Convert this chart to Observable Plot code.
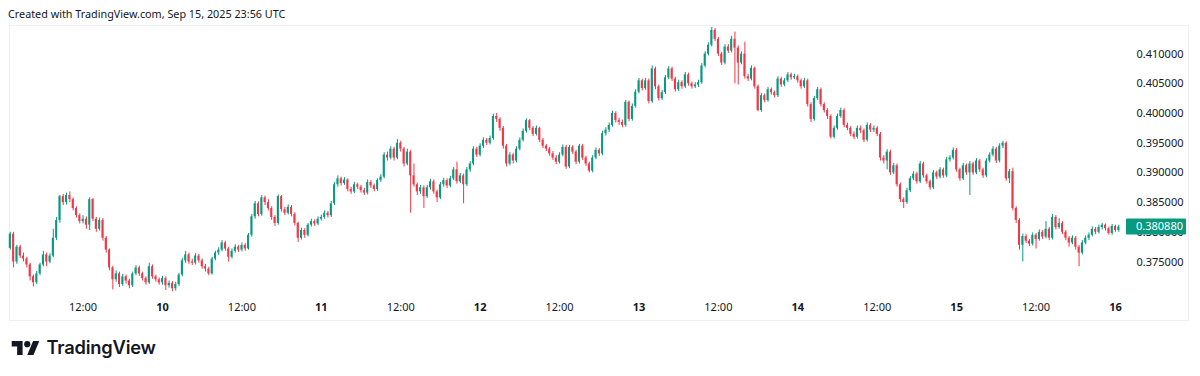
<!DOCTYPE html>
<html><head><meta charset="utf-8">
<script src="https://cdn.jsdelivr.net/npm/d3@7"></script>
<script src="https://cdn.jsdelivr.net/npm/@observablehq/plot@0.6"></script>
<style>
html,body{margin:0;padding:0;background:#fff;}
body{width:1200px;height:376px;position:relative;overflow:hidden;font-family:"Noto Sans",sans-serif;color:#131722;}
#top{position:absolute;left:0;top:0;}
#panel{position:absolute;left:9px;top:25px;width:1180px;height:296px;border:1px solid #eceff3;box-sizing:border-box;}
#chart{position:absolute;left:0;top:25px;}
#logo{position:absolute;left:0;top:330px;}
</style></head><body>
<svg id="top" width="400" height="25"><text x="8" y="18" font-family="Noto Sans" font-size="10.8" fill="#131722">Created with TradingView.com, Sep 15, 2025 23:56 UTC</text></svg>
<div id="panel"></div>
<div id="chart"></div>
<svg id="logo" width="220" height="40">
  <g transform="translate(11.7,8) scale(0.778)" fill="#131722"><path d="M14 22H7V11H0V4h14v18zM28 22h-8l7.5-18h8L28 22z"/><circle cx="20" cy="8" r="4"/></g>
  <text x="46.5" y="23.8" font-family="Inter" font-weight="600" font-size="18.3" fill="#131722" letter-spacing="-0.2">TradingView</text>
</svg>
<script>
// 30-minute candles, Sep 9 01:00 → Sep 16 00:30 (chart time). Prices in units of 0.0001.
const PRICE_UNIT = 1e-4;
const firstOpen = 3773;
const closes = [
3797,3750,3775,3760,3755,3745,3725,3715,3730,3745,3762,3750,3760,3790,3820,3860,3850,3862,3855,3840,
3828,3818,3822,3812,3855,3822,3805,3820,3790,3770,3740,3720,3730,3712,3725,3718,3710,3730,3740,3730,
3722,3715,3742,3725,3720,3715,3722,3710,3714,3705,3712,3728,3752,3762,3750,3748,3760,3752,3742,3738,
3730,3755,3765,3770,3782,3772,3758,3768,3775,3770,3778,3772,3795,3826,3848,3830,3858,3850,3840,3825,
3815,3860,3838,3832,3842,3830,3815,3790,3803,3795,3812,3818,3814,3822,3825,3832,3828,3848,3880,3890,
3882,3888,3872,3868,3880,3876,3870,3866,3884,3878,3872,3887,3893,3930,3925,3940,3925,3950,3940,3915,
3935,3895,3880,3868,3875,3860,3875,3885,3868,3858,3880,3887,3878,3890,3905,3885,3895,3880,3905,3915,
3940,3930,3945,3955,3950,3958,3995,3990,3975,3945,3915,3930,3920,3940,3955,3970,3988,3975,3965,3975,
3955,3945,3940,3932,3925,3918,3930,3943,3910,3943,3935,3918,3945,3925,3915,3903,3925,3938,3932,3966,
3972,3980,4000,3988,3985,3980,4019,3990,4012,4036,4055,4042,4055,4020,4075,4045,4025,4035,4060,4075,
4058,4040,4052,4045,4065,4050,4045,4048,4052,4080,4100,4115,4140,4125,4100,4085,4112,4105,4125,4110,
4085,4100,4062,4058,4076,4045,4005,4030,4022,4040,4035,4030,4058,4048,4055,4065,4060,4062,4055,4045,
4055,4015,3990,4025,4040,4015,4005,3995,3960,3975,3995,4005,3980,3975,3965,3960,3975,3971,3955,3980,
3972,3975,3965,3925,3920,3935,3900,3912,3880,3855,3850,3870,3890,3898,3885,3915,3895,3885,3875,3900,
3893,3905,3895,3922,3925,3938,3905,3890,3912,3900,3915,3900,3920,3905,3895,3920,3930,3940,3920,3945,
3950,3890,3902,3840,3820,3778,3793,3785,3780,3795,3788,3800,3792,3805,3790,3825,3808,3815,3800,3790,
3782,3790,3775,3765,3782,3790,3795,3805,3800,3808,3812,3806,3798,3810,3803,3808.8
];
const highs = [
3800,3800,3778,3778,3765,3758,3748,3728,3734,3748,3768,3765,3764,3805,3825,3862,3864,3866,3868,3858,
3843,3831,3828,3826,3858,3857,3825,3824,3823,3793,3772,3743,3735,3733,3729,3728,3721,3733,3744,3743,
3733,3725,3748,3745,3728,3723,3726,3725,3718,3717,3716,3731,3756,3768,3765,3755,3764,3763,3755,3746,
3741,3758,3768,3774,3786,3785,3775,3772,3779,3778,3782,3781,3798,3830,3852,3851,3862,3861,3855,3843,
3828,3863,3862,3842,3846,3845,3833,3817,3807,3806,3815,3822,3821,3826,3829,3836,3835,3852,3884,3895,
3893,3892,3890,3876,3884,3883,3879,3874,3888,3887,3881,3890,3897,3934,3935,3944,3943,3956,3953,3943,
3940,3938,3915,3883,3879,3878,3879,3889,3888,3871,3884,3891,3890,3894,3909,3918,3899,3898,3909,3919,
3944,3943,3949,3959,3958,3962,3999,4000,3993,3978,3948,3934,3933,3944,3959,3974,3991,3990,3978,3979,
3977,3958,3948,3943,3936,3929,3934,3947,3946,3946,3946,3938,3948,3948,3928,3918,3929,3942,3941,3970,
3976,3984,4004,4003,3992,3989,4022,4021,4016,4040,4059,4058,4059,4058,4080,4078,4048,4039,4064,4079,
4078,4061,4056,4055,4069,4068,4053,4052,4056,4084,4104,4119,4145,4143,4128,4103,4116,4116,4130,4137,
4114,4104,4120,4066,4080,4078,4048,4034,4033,4044,4043,4038,4062,4061,4059,4069,4068,4066,4065,4058,
4059,4058,4018,4029,4044,4043,4018,4008,3998,3979,3999,4009,4008,3984,3978,3969,3979,3979,3974,3984,
3983,3979,3978,3968,3929,3939,3938,3916,3915,3883,3858,3874,3894,3902,3901,3919,3918,3898,3888,3904,
3903,3909,3908,3926,3929,3942,3941,3908,3916,3915,3919,3918,3924,3923,3908,3924,3934,3944,3943,3949,
3953,3952,3906,3908,3843,3823,3797,3796,3788,3799,3798,3804,3803,3818,3808,3830,3828,3823,3818,3803,
3793,3794,3793,3778,3786,3794,3799,3809,3808,3812,3815,3814,3809,3813,3812,3812
];
const lows = [
3770,3740,3746,3756,3750,3740,3718,3708,3712,3727,3742,3742,3747,3757,3786,3815,3845,3846,3850,3836,
3824,3814,3814,3805,3803,3818,3800,3802,3785,3765,3735,3703,3716,3707,3709,3713,3705,3707,3727,3726,
3718,3711,3712,3721,3716,3711,3711,3702,3706,3700,3701,3709,3725,3748,3746,3744,3745,3748,3738,3733,
3727,3728,3752,3761,3767,3768,3750,3755,3765,3766,3767,3768,3770,3792,3822,3826,3827,3845,3836,3820,
3810,3812,3834,3828,3829,3826,3811,3783,3787,3790,3792,3809,3810,3811,3819,3822,3824,3825,3845,3876,
3878,3879,3868,3864,3865,3872,3866,3862,3863,3874,3868,3869,3884,3890,3920,3922,3920,3922,3935,3910,
3912,3832,3876,3862,3864,3840,3857,3871,3864,3850,3855,3876,3874,3875,3887,3881,3882,3848,3877,3901,
3912,3926,3927,3941,3946,3947,3955,3985,3970,3940,3910,3912,3915,3917,3937,3952,3967,3971,3961,3962,
3951,3941,3936,3928,3921,3914,3915,3927,3906,3907,3931,3914,3915,3921,3911,3900,3900,3922,3928,3929,
3962,3968,3977,3984,3980,3976,3977,3986,3987,4009,4033,4038,4039,4016,4017,4040,4021,4022,4032,4057,
4054,4036,4037,4041,4042,4046,4041,4042,4044,4049,4077,4097,4112,4121,4096,4081,4082,4101,4102,4050,
4048,4082,4058,4054,4055,4041,4003,4002,4018,4019,4031,4026,4027,4044,4045,4052,4056,4057,4051,4041,
4042,4011,3985,3987,4022,4011,4001,3990,3957,3957,3972,3992,3976,3971,3961,3956,3957,3966,3951,3952,
3968,3968,3961,3920,3915,3905,3896,3897,3876,3850,3840,3847,3867,3887,3881,3882,3891,3881,3871,3872,
3889,3890,3891,3892,3918,3922,3901,3886,3887,3896,3862,3896,3897,3901,3891,3892,3917,3927,3916,3917,
3941,3886,3882,3836,3815,3770,3750,3781,3776,3777,3772,3785,3788,3789,3786,3787,3804,3805,3796,3786,
3775,3779,3770,3742,3762,3779,3786,3792,3796,3797,3804,3802,3795,3795,3800,3800
];
const yTicks = [0.375, 0.38, 0.385, 0.39, 0.395, 0.40, 0.405, 0.41];
const halfDayTicks = ["2025-09-09T12:00Z","2025-09-10T12:00Z","2025-09-11T12:00Z","2025-09-12T12:00Z","2025-09-13T12:00Z","2025-09-14T12:00Z","2025-09-15T12:00Z"];
const dayTicks = ["2025-09-10T00:00Z","2025-09-11T00:00Z","2025-09-12T00:00Z","2025-09-13T00:00Z","2025-09-14T00:00Z","2025-09-15T00:00Z","2025-09-16T00:00Z"];
const startTime = "2025-09-09T01:00Z";
const lastPriceLabel = "0.380880";

const UP = "#089981", DOWN = "#F23645";
const t0 = new Date(startTime);
const rows = closes.map((c, i) => {
  const o = i === 0 ? firstOpen : closes[i - 1];
  const t = d3.utcMinute.offset(t0, 30 * i);
  return {
    t, t1: d3.utcMinute.offset(t, -9), t2: d3.utcMinute.offset(t, 9),
    o: o * PRICE_UNIT, c: c * PRICE_UNIT,
    h: Math.max(highs[i], o, c) * PRICE_UNIT,
    l: Math.min(lows[i], o, c) * PRICE_UNIT,
    up: c >= o
  };
});

const chart = Plot.plot({
  width: 1200, height: 295,
  marginLeft: 9, marginRight: 75, marginTop: 0, marginBottom: 30,
  x: {type: "utc", domain: [new Date("2025-09-09T00:53Z"), new Date("2025-09-16T01:31Z")]},
  y: {domain: [0.370202, 0.414815]},
  style: {fontFamily: "Noto Sans", fontSize: "11px", color: "#131722", background: "transparent", overflow: "visible"},
  marks: [
    Plot.ruleX(rows, {x: "t", y1: "l", y2: "h", stroke: d => d.up ? UP : DOWN, strokeWidth: 1}),
    Plot.rect(rows, {x1: "t1", x2: "t2", y1: "o", y2: "c", fill: d => d.up ? UP : DOWN}),
    Plot.axisY(yTicks, {anchor: "right", tickSize: 0, tickPadding: 11, tickFormat: d3.format(".6f"), label: null, fill: "#131722"}),
    Plot.axisX(halfDayTicks.map(d => new Date(d)), {anchor: "bottom", tickSize: 0, tickPadding: 13, tickFormat: d3.utcFormat("%H:%M"), label: null, fill: "#131722"}),
    Plot.axisX(dayTicks.map(d => new Date(d)), {anchor: "bottom", tickSize: 0, tickPadding: 13, tickFormat: d => String(d.getUTCDate()), label: null, fontWeight: "bold", fill: "#131722"})
  ]
});
document.getElementById("chart").appendChild(chart);

// last price label on the price axis (sits over the 0.380000 tick, as in the source)
const svg = d3.select(chart);
const yLast = chart.scale("y").apply(rows[rows.length - 1].c);
svg.append("rect").attr("x", 1126).attr("y", yLast - 8).attr("width", 60).attr("height", 16).attr("rx", 1).attr("fill", UP);
svg.append("text").attr("x", 1136).attr("y", yLast).attr("dy", "0.35em").attr("fill", "#fff")
  .attr("text-anchor", "start").attr("font-family", "Noto Sans").attr("font-size", 11).text(lastPriceLabel);
</script>
</body></html>
